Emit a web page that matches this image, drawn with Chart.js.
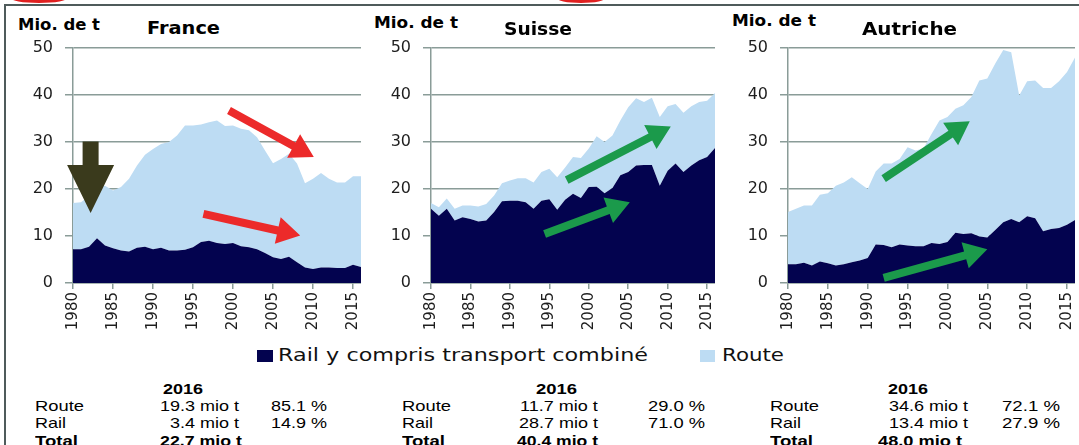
<!DOCTYPE html>
<html>
<head>
<meta charset="utf-8">
<script src="https://cdn.jsdelivr.net/npm/chart.js@4"></script>
<style>
  html, body { margin:0; padding:0; background:#fff; width:1079px; height:445px; overflow:hidden; position:relative; }
  canvas { position:absolute; }
</style>
</head>
<body>
<script>
// ---------- DATA ----------
const years = [1980,1981,1982,1983,1984,1985,1986,1987,1988,1989,
               1990,1991,1992,1993,1994,1995,1996,1997,1998,1999,
               2000,2001,2002,2003,2004,2005,2006,2007,2008,2009,
               2010,2011,2012,2013,2014,2015,2016];

const franceRail = [7.2,7.2,7.7,9.5,8.0,7.4,6.9,6.7,7.5,7.7,
                    7.2,7.5,6.9,6.9,7.1,7.6,8.7,9.0,8.5,8.3,
                    8.5,7.8,7.6,7.2,6.4,5.5,5.1,5.6,4.4,3.3,
                    3.0,3.3,3.3,3.2,3.2,3.9,3.4];
const franceRoute = [9.8,10.0,10.8,10.8,12.7,12.3,13.5,15.5,17.5,19.6,
                     21.3,22.1,23.1,24.5,26.4,25.9,25.0,25.2,26.1,25.1,
                     25.0,25.0,24.9,23.8,21.8,20.0,21.3,21.9,21.0,17.9,
                     19.2,20.1,18.9,18.2,18.2,18.8,19.3];

const suisseRail = [15.8,14.3,15.8,13.3,14.0,13.6,13.1,13.3,15.1,17.4,
                    17.5,17.5,17.2,15.8,17.5,17.8,15.6,17.7,19.0,18.1,
                    20.4,20.5,19.1,20.2,22.9,23.6,25.0,25.1,25.1,20.7,
                    23.9,25.4,23.6,25.0,26.1,26.8,28.7];
const suisseRoute = [1.2,1.8,2.2,2.5,2.5,2.9,3.2,3.5,3.5,3.8,
                     4.3,4.8,5.1,5.6,6.1,6.5,6.9,6.9,7.8,8.5,
                     8.2,10.7,10.9,11.2,11.7,13.8,14.3,13.4,14.3,14.6,
                     13.7,12.7,12.6,12.6,12.4,12.0,11.7];

const autricheRail = [4.0,4.0,4.3,3.7,4.6,4.2,3.7,4.0,4.4,4.8,
                      5.3,8.2,8.1,7.6,8.2,8.0,7.8,7.8,8.5,8.3,
                      8.7,10.7,10.4,10.6,9.9,9.7,11.3,12.9,13.6,12.9,
                      14.2,13.8,11.0,11.5,11.7,12.4,13.4];
const autricheRoute = [11.1,11.8,12.2,12.8,14.2,14.9,17.0,17.4,18.1,16.4,
                       14.7,15.5,17.3,17.8,18.2,20.9,20.4,20.8,23.2,26.3,
                       26.6,26.4,27.4,29.0,33.2,33.8,35.4,36.7,35.5,27.0,
                       28.7,29.3,30.5,30.0,31.2,32.5,34.6];

const countries = ['France', 'Suisse', 'Autriche'];
const yTicks = [0, 10, 20, 30, 40, 50];
const seriesNames = ['Rail y compris transport combiné', 'Route'];

// 2016 table
const tableYear = '2016';
const routeMio = [19.3, 11.7, 34.6];
const railMio  = [3.4, 28.7, 13.4];
const totalMio = [22.7, 40.4, 48.0];
const routePct = [85.1, 29.0, 72.1];
const railPct  = [14.9, 71.0, 27.9];

// ---------- STYLE ----------
const RAIL_COLOR = '#03034f';
const ROUTE_COLOR = '#bddcf3';
const GRID = '#8a9c98';
const TICK_COLOR = '#1e1e1e';

function addText(str, x, w, baseline, size, opts = {}) {
  const el = document.createElement('div');
  el.textContent = str;
  const fam = opts.family || '"Liberation Sans", Arial, sans-serif';
  el.style.cssText = `position:absolute;white-space:nowrap;left:${x}px;top:${baseline - 0.846*size}px;` +
    `font:${opts.bold ? 'bold ' : ''}${size}px/${size}px ${fam};color:${opts.color || '#000'};transform-origin:0 0;`;
  document.body.appendChild(el);
  if (w) {
    const nat = el.getBoundingClientRect().width;
    el.style.transform = `scaleX(${w / nat})`;
  }
  return el;
}
function addBox(x, y, w, h, bg, extra='') {
  const d = document.createElement('div');
  d.style.cssText = `position:absolute;left:${x}px;top:${y}px;width:${w}px;height:${h}px;background:${bg};${extra}`;
  document.body.appendChild(d);
  return d;
}

// frame + cut red ellipses at the top edge
addBox(5, 4, 1074, 2, '#4f5b5b');
addBox(4, 4, 2, 441, '#4f5b5b');
addBox(10, -8, 58, 11, 'transparent', 'border:3px solid #e02020;border-radius:50%;box-sizing:border-box;');
addBox(556, -8, 50, 11, 'transparent', 'border:3px solid #e02020;border-radius:50%;box-sizing:border-box;');

// ---------- ARROW PLUGIN (positions in data units) ----------
const arrowPlugin = {
  id: 'arrows',
  afterDatasetsDraw(chart, args, opts) {
    const ctx = chart.ctx, xs = chart.scales.x, ys = chart.scales.y;
    (opts.list || []).forEach(a => {
      const x1 = xs.getPixelForValue(a.from[0]), y1 = ys.getPixelForValue(a.from[1]);
      const x2 = xs.getPixelForValue(a.to[0]),   y2 = ys.getPixelForValue(a.to[1]);
      const dx = x2 - x1, dy = y2 - y1, L = Math.hypot(dx, dy);
      const ux = dx / L, uy = dy / L, nx = -uy, ny = ux;
      const bx = x2 - ux * a.headLen, by = y2 - uy * a.headLen;
      const sw = a.shaft / 2, hw = a.headW / 2;
      ctx.save();
      ctx.fillStyle = a.color;
      ctx.beginPath();
      ctx.moveTo(x1 + nx*sw, y1 + ny*sw);
      ctx.lineTo(bx + nx*sw, by + ny*sw);
      ctx.lineTo(bx + nx*hw, by + ny*hw);
      ctx.lineTo(x2, y2);
      ctx.lineTo(bx - nx*hw, by - ny*hw);
      ctx.lineTo(bx - nx*sw, by - ny*sw);
      ctx.lineTo(x1 - nx*sw, y1 - ny*sw);
      ctx.closePath();
      ctx.fill();
      ctx.restore();
    });
  }
};

const RED = '#ec2a2a', GREEN = '#1b9a4b', BROWN = '#3a3a1c';
const arrowsFrance = [
  {from:[1982.2, 30.1], to:[1982.2, 14.9], color:BROWN, shaft:16, headW:47, headLen:48},
  {from:[1999.5, 36.7], to:[2010.1, 26.8], color:RED, shaft:8, headW:27, headLen:23},
  {from:[1996.3, 14.7], to:[2008.4, 10.1], color:RED, shaft:8, headW:27, headLen:23}
];
const arrowsSuisse = [
  {from:[1997.2, 21.9], to:[2010.4, 33.3], color:GREEN, shaft:8, headW:27, headLen:23},
  {from:[1994.4, 10.4], to:[2005.2, 17.2], color:GREEN, shaft:8, headW:27, headLen:23}
];
const arrowsAutriche = [
  {from:[1992.0, 22.2], to:[2002.8, 34.4], color:GREEN, shaft:8, headW:27, headLen:23},
  {from:[1992.0, 1.1], to:[2005.0, 7.2], color:GREEN, shaft:8, headW:27, headLen:23}
];

// ---------- CHARTS ----------
function makeChart(left, width, rail, route, arrows) {
  const cv = document.createElement('canvas');
  cv.width = width; cv.height = 300;
  cv.style.left = left + 'px'; cv.style.top = '38px';
  document.body.appendChild(cv);
  const pts = arr => years.map((yr, i) => ({x: yr, y: arr[i]}));
  return new Chart(cv, {
    type: 'line',
    data: {
      datasets: [
        {label: seriesNames[0], data: pts(rail), backgroundColor: RAIL_COLOR, borderColor: 'rgba(0,0,0,0)',
         borderWidth: 0, fill: 'origin', pointRadius: 0, tension: 0},
        {label: seriesNames[1], data: pts(route), backgroundColor: ROUTE_COLOR, borderColor: 'rgba(0,0,0,0)',
         borderWidth: 0, fill: '-1', pointRadius: 0, tension: 0}
      ]
    },
    options: {
      responsive: false,
      animation: false,
      layout: {padding: {top: 10, right: 0, bottom: 0, left: 0}},
      plugins: {legend: {display: false}, tooltip: {enabled: false}, arrows: {list: arrows}},
      scales: {
        x: {
          type: 'linear', min: years[0], max: years[years.length - 1],
          ticks: {stepSize: 5, includeBounds: false, maxRotation: 90, minRotation: 90, autoSkip: false,
                  color: TICK_COLOR, font: {family: 'DejaVu Sans', size: 15}, padding: 3,
                  callback: v => String(v)},
          grid: {drawOnChartArea: false, drawTicks: true, tickLength: 6, color: GRID, lineWidth: 1.5},
          border: {display: true, color: GRID, width: 1.5},
          afterFit: s => { s.height = 55; s.paddingLeft = 0; s.paddingRight = 0; }
        },
        y: {
          stacked: true, min: yTicks[0], max: yTicks[yTicks.length - 1],
          afterBuildTicks: s => { s.ticks = yTicks.map(v => ({value: v})); },
          ticks: {color: TICK_COLOR, font: {family: 'DejaVu Sans', size: 16}, padding: 12},
          grid: {color: GRID, lineWidth: 1.5, tickLength: 8},
          border: {display: true, color: GRID, width: 1.5},
          afterFit: s => { s.width = 53; s.paddingTop = 0; s.paddingBottom = 0; }
        }
      }
    },
    plugins: [arrowPlugin]
  });
}

makeChart(20, 341, franceRail, franceRoute, arrowsFrance);
makeChart(378, 337, suisseRail, suisseRoute, arrowsSuisse);
makeChart(735, 340, autricheRail, autricheRoute, arrowsAutriche);

// ---------- TEXTS ----------
const DJ = '"DejaVu Sans", Verdana, sans-serif';
// unit labels
addText('Mio. de t', 18, 82, 30.7, 15, {bold: true, family: DJ});
addText('Mio. de t', 374, 84, 28.3, 15, {bold: true, family: DJ});
addText('Mio. de t', 732, 84, 26.7, 15, {bold: true, family: DJ});
// panel titles
addText(countries[0], 147, 73, 34.3, 17, {bold: true, family: DJ});
addText(countries[1], 504, 68, 35, 17, {bold: true, family: DJ});
addText(countries[2], 862, 95, 35, 17, {bold: true, family: DJ});

// legend
addBox(257, 350, 16, 12, RAIL_COLOR);
addText(seriesNames[0], 278, 370, 361.7, 17, {family: DJ, color: '#111'});
addBox(700, 350, 15, 12, ROUTE_COLOR);
addText(seriesNames[1], 722, 62, 361.7, 17, {family: DJ, color: '#111'});

// table
const tbl = [
  {lab: 35,  year: [163, 40], mio: [160, 239], pct: [271, 56], tot: [160, 82]},
  {lab: 402, year: [536, 41], mio: [508, 598], pct: [648, 57], tot: [517, 81]},
  {lab: 770, year: [888, 40], mio: [877, 968], pct: [1002, 58], tot: [878, 84]}
];
const rowY = [394, 411, 428, 445.5];
tbl.forEach((p, i) => {
  const F = 15;
  addText(tableYear, p.year[0], p.year[1], rowY[0], F, {bold: true});
  addText('Route', p.lab, 49, rowY[1], F);
  addText('Rail', p.lab, 31, rowY[2], F);
  addText('Total', p.lab, 43, rowY[3], F, {bold: true});
  // right-aligned mio values
  [[routeMio[i], rowY[1]], [railMio[i], rowY[2]]].forEach(([v, by]) => {
    const el = addText(v.toFixed(1) + ' mio t', 0, null, by, F);
    const w = el.getBoundingClientRect().width * 1.2;
    el.style.transform = 'scaleX(1.2)';
    el.style.left = (p.mio[1] - w) + 'px';
  });
  addText(totalMio[i].toFixed(1) + ' mio t', p.tot[0], p.tot[1], rowY[3], F, {bold: true});
  addText(routePct[i].toFixed(1) + ' %', p.pct[0], p.pct[1], rowY[1], F);
  addText(railPct[i].toFixed(1) + ' %', p.pct[0], p.pct[1], rowY[2], F);
});
</script>
</body>
</html>
